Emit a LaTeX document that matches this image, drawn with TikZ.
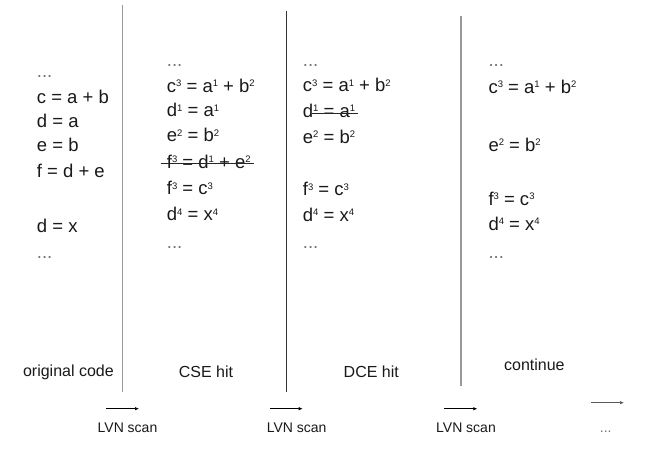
\documentclass[tikz,border=0pt]{standalone}
\usepackage{fontspec}
\setmainfont{Liberation Sans}
\usetikzlibrary{arrows.meta,calc}
\newcommand{\upx}[1]{\raisebox{5.5pt}{\fontsize{9.5}{10}\selectfont #1}}
\begin{document}
\begin{tikzpicture}[x=1pt,y=-1pt,
  code/.style={anchor=base west,inner sep=0pt,font=\fontsize{18.5}{20}\selectfont,text=black!90},
  dots/.style={code,text=black!55},
  label/.style={anchor=base,inner sep=0pt,font=\fontsize{16}{18}\selectfont,text=black!90},
  scan/.style={anchor=base,inner sep=0pt,font=\fontsize{14}{16}\selectfont,text=black!90},
  sep/.style={line width=1.3pt},
  flow/.style={line width=0.7pt,-{Latex[length=4pt,width=3.5pt]}},
  strike/.style={line width=1pt,black!85}]
\useasboundingbox[fill=white] (0,0) rectangle (654,448);

% separators
\coordinate (s1t) at (122.7,5);   \coordinate (s1b) at (122.7,391.7);
\coordinate (s2t) at (286.5,10.7); \coordinate (s2b) at (286.5,392);
\coordinate (s3t) at (461,15.7);  \coordinate (s3b) at (461,386);
\draw[sep,black!40] (s1t) -- (s1b);
\draw[sep,black!80] (s2t) -- (s2b);
\draw[sep,black!40] (s3t) -- (s3b);

% column 1
\node[dots] (a0) at (36.7,77) {...};
\node[code] (a1) at (36.7,103) {c = a + b};
\node[code] (a2) at (36.7,127.5) {d = a};
\node[code] (a3) at (36.7,151.5) {e = b};
\node[code] (a4) at (36.7,177) {f = d + e};
\node[code] (a5) at (36.7,232.5) {d = x};
\node[dots] (a6) at (36.7,258) {...};

% column 2
\node[dots] (b0) at (166.7,66) {...};
\node[code] (b1) at (166.7,92) {c\upx{3} = a\upx{1} + b\upx{2}};
\node[code] (b2) at (166.7,116.5) {d\upx{1} = a\upx{1}};
\node[code] (b3) at (166.7,141.5) {e\upx{2} = b\upx{2}};
\node[code] (b4) at (166.7,168) {f\upx{3} = d\upx{1} + e\upx{2}};
\node[code] (b5) at (166.7,194.5) {f\upx{3} = c\upx{3}};
\node[code] (b6) at (166.7,220.5) {d\upx{4} = x\upx{4}};
\node[dots] (b7) at (166.7,248) {...};
\draw[strike] ($(b4.base west)+(-6,-4.5)$) -- ($(b4.base east)+(3,-4.5)$);

% column 3
\node[dots] (c0) at (302.7,66) {...};
\node[code] (c1) at (302.7,91.5) {c\upx{3} = a\upx{1} + b\upx{2}};
\node[code] (c2) at (302.7,117) {d\upx{1} = a\upx{1}};
\node[code] (c3) at (302.7,143) {e\upx{2} = b\upx{2}};
\node[code] (c4) at (302.7,195.5) {f\upx{3} = c\upx{3}};
\node[code] (c5) at (302.7,221) {d\upx{4} = x\upx{4}};
\node[dots] (c6) at (302.7,248) {...};
\draw[strike] ($(c2.base west)+(9,-4)$) -- ($(c2.base east)+(3,-4)$);

% column 4
\node[dots] (d0) at (488.3,66) {...};
\node[code] (d1) at (488.3,93) {c\upx{3} = a\upx{1} + b\upx{2}};
\node[code] (d2) at (488.3,151) {e\upx{2} = b\upx{2}};
\node[code] (d3) at (488.3,205) {f\upx{3} = c\upx{3}};
\node[code] (d4) at (488.3,230) {d\upx{4} = x\upx{4}};
\node[dots] (d5) at (488.3,258) {...};

% labels
\node[label] (l1) at (68.4,376.5) {original code};
\node[label] (l2) at (206,377.5) {CSE hit};
\node[label] (l3) at (371.3,377.5) {DCE hit};
\node[label] (l4) at (534.4,370.5) {continue};

% scans
\coordinate (p1) at (106,408.7);   \coordinate (q1) at (139,408.7);
\coordinate (p2) at (270,408.7);   \coordinate (q2) at (302.7,408.7);
\coordinate (p3) at (444,408.7);   \coordinate (q3) at (477.3,408.7);
\coordinate (p4) at (591.3,402.7); \coordinate (q4) at (624,402.7);
\draw[flow] (p1) -- (q1);
\draw[flow] (p2) -- (q2);
\draw[flow] (p3) -- (q3);
\draw[flow,black!65] (p4) -- (q4);
\node[scan] (n1) at (127.5,432) {LVN scan};
\node[scan] (n2) at (296.7,432) {LVN scan};
\node[scan] (n3) at (466,432) {LVN scan};
\node[scan,text=black!55] (n4) at (605.7,432) {...};
\end{tikzpicture}
\end{document}
